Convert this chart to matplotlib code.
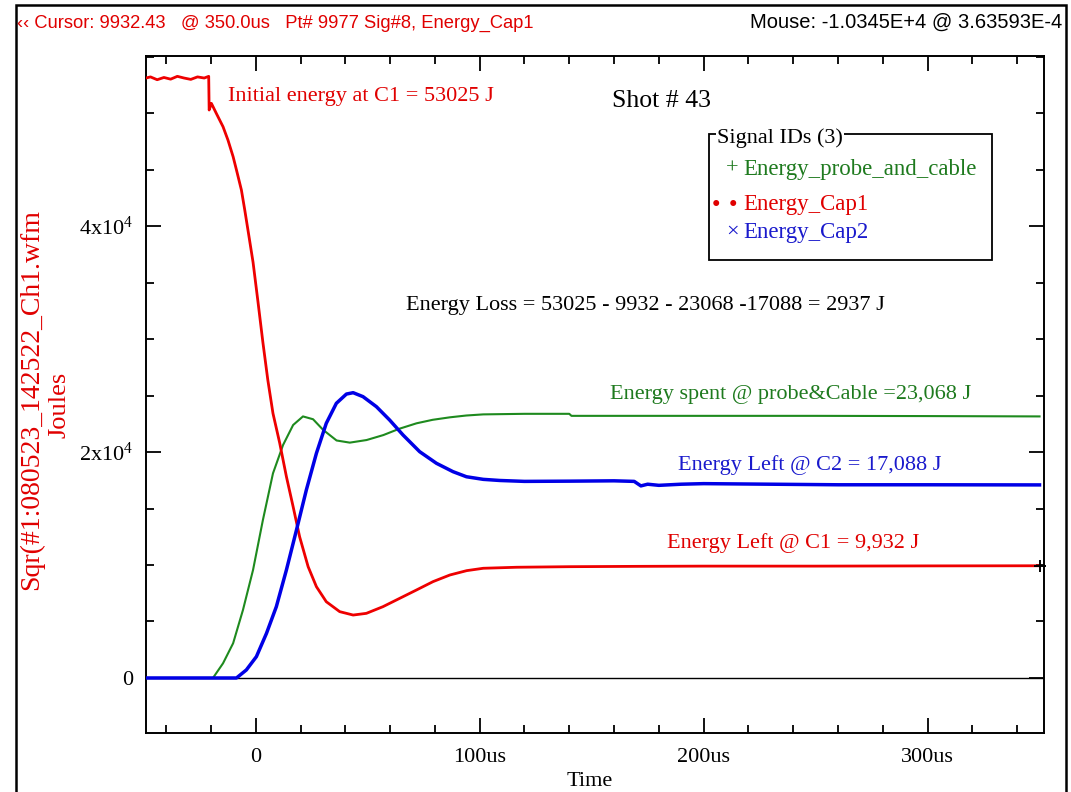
import matplotlib
matplotlib.use("Agg")
import matplotlib.pyplot as plt
from matplotlib.patches import Rectangle
from matplotlib.ticker import MultipleLocator, FixedLocator, FixedFormatter

plt.rcParams['font.family'] = 'Liberation Serif'
plt.rcParams['mathtext.fontset'] = 'custom'
plt.rcParams['mathtext.rm'] = 'Liberation Serif'
plt.rcParams['mathtext.it'] = 'Liberation Serif:italic'

# values (time in us, energy in J)
green_t = [-50, -19.1, -14.6, -10.1, -5.7, -1.2, 3.2, 7.7, 12.2, 16.7, 21.1, 25.6, 30.1,
           36.1, 42, 49.5, 57, 64, 71.8, 79, 86.7, 94, 101.6, 120, 140, 141, 200, 250,
           300, 350]
green_E = [0, 0, 1300, 3070, 6020, 9560, 13980, 18110, 20620, 22390, 23150, 22900, 21960,
           21020, 20830, 21060, 21500, 22050, 22540, 22850, 23070, 23230, 23330, 23380,
           23380, 23200, 23200, 23200, 23180, 23150]

red_t = [-50, -47, -44, -41, -38, -35, -32, -29, -26, -23, -21, -20.8, -19.8, -17.6, -14.6,
         -12.4, -10.1, -8.6, -6.4, -4.9, -3.0, -1.2, 1.0, 3.2, 5.4, 7.7, 10.7, 13.7, 16.7,
         19.6, 23.4, 27.1, 31.5, 37.5, 43.5, 49.4, 56.8, 64.3, 71.8, 79.2, 86.7, 94.2,
         101.6, 116.5, 140, 170, 200, 250, 300, 350]
red_E = [53050, 53200, 52950, 53150, 53000, 53250, 53100, 52980, 53200, 53100, 53250, 50270,
         50860, 49970, 48790, 47610, 46140, 44960, 43190, 41420, 39060, 36800, 33300, 29700,
         26370, 23420, 20800, 17820, 15160, 12500, 9850, 8080, 6750, 5870, 5570, 5720,
         6310, 7050, 7790, 8530, 9115, 9500, 9710, 9800, 9850, 9880, 9900, 9900, 9920, 9932]

blue_t = [-50, -8.6, -4.2, 0.3, 4.8, 9.2, 13.7, 18.2, 22.6, 27.1, 31.5, 36, 40.5, 43.5, 47.9,
          53.9, 59.8, 65.8, 73.2, 80.7, 88.1, 94.1, 101.6, 109, 120, 140, 160, 169, 172,
          175, 180, 190, 200, 230, 260, 300, 350]
blue_E = [0, 0, 710, 1890, 3950, 6310, 9560, 13100, 16640, 19890, 22540, 24310, 25130, 25250,
          24900, 24010, 22830, 21500, 20030, 19000, 18260, 17810, 17580, 17480, 17400,
          17420, 17450, 17400, 17000, 17150, 17050, 17150, 17200, 17150, 17100, 17100, 17088]

cursor_t = 350
cursor_E = 9932

x_ticks = [0, 100, 200, 300]
x_labels = ['0', '100us', '200us', '300us']
y_ticks = [0, 20000, 40000]
y_labels = ['0', r'2x10$^{4}$', r'4x10$^{4}$']

W, H = 1071, 792


def fx(p):
    return p / W


def fy(p):
    return 1 - p / H


fig = plt.figure(figsize=(W / 100, H / 100), dpi=100)
ax = fig.add_axes([fx(146), fy(733), fx(1044) - fx(146), fy(56) - fy(733)])

ax.axhline(0, color='black', lw=1.0, zorder=1)
ax.plot(green_t, green_E, color='#1e8a1e', lw=1.5, zorder=2)
ax.plot(red_t, red_E, color='#ee0000', lw=2.0, zorder=3)
ax.plot(blue_t, blue_E, color='#0000e6', lw=2.5, zorder=4)
ax.plot([cursor_t], [cursor_E], marker='+', color='black', ms=9, mew=1.4, zorder=5, clip_on=False)

ax.set_xlim(-49, 352)
ax.set_ylim(-4870, 55050)

ax.xaxis.set_major_locator(FixedLocator(x_ticks))
ax.xaxis.set_major_formatter(FixedFormatter(x_labels))
ax.xaxis.set_minor_locator(MultipleLocator(20))
ax.yaxis.set_major_locator(FixedLocator(y_ticks))
ax.yaxis.set_major_formatter(FixedFormatter(y_labels))
ax.yaxis.set_minor_locator(MultipleLocator(5000))
ax.tick_params(which='both', direction='in', top=True, right=True, width=1.3, labelsize=16)
ax.tick_params(which='major', length=11)
ax.tick_params(which='minor', length=6)
ax.tick_params(axis='x', pad=11)
ax.tick_params(axis='y', pad=9)
for s in ax.spines.values():
    s.set_linewidth(1.4)

# header line
fig.text(fx(17), fy(28), '\u2039\u2039 Cursor: 9932.43   @ 350.0us   Pt# 9977 Sig#8, Energy_Cap1',
         family='Liberation Sans', fontsize=13.2, color='#e00000', va='baseline')
fig.text(fx(1062), fy(28), 'Mouse: -1.0345E+4 @ 3.63593E-4',
         family='Liberation Sans', fontsize=14.5, color='black', ha='right', va='baseline')
fig.add_artist(Rectangle((fx(15.5), -0.01), fx(1065.5) - fx(15.5), fy(5.5) + 0.01,
                         transform=fig.transFigure, fill=False, lw=1.8, ec='black'))

# axis titles
fig.text(fx(32), fy(399), 'Sqr(#1:080523_142522_Ch1.wfm', rotation=90, color='#e00000',
         fontsize=20, ha='center', va='center')
fig.text(fx(59), fy(405), 'Joules', rotation=90, color='#e00000', fontsize=19,
         ha='center', va='center')
fig.text(fx(590), fy(781), 'Time', fontsize=16, ha='center', va='center')

# annotations
fig.text(fx(228), fy(101), 'Initial energy at C1 = 53025 J', fontsize=16, color='#e00000')
fig.text(fx(612), fy(107), 'Shot # 43', fontsize=18.5, color='black')
fig.text(fx(406), fy(310), 'Energy Loss = 53025 - 9932 - 23068 -17088 = 2937 J',
         fontsize=16, color='black')
fig.text(fx(610), fy(399), 'Energy spent @ probe&Cable =23,068 J', fontsize=16, color='#1e7a1e')
fig.text(fx(678), fy(470), 'Energy Left @ C2 = 17,088 J', fontsize=16, color='#1a1acc')
fig.text(fx(667), fy(548), 'Energy Left @ C1 = 9,932 J', fontsize=16, color='#e00000')

# signal id box
fig.add_artist(Rectangle((fx(709), fy(260)), fx(992) - fx(709), fy(134) - fy(260),
                         transform=fig.transFigure, fill=False, lw=1.3, ec='black'))
fig.text(fx(717), fy(143), 'Signal IDs (3)', fontsize=16, color='black',
         bbox=dict(fc='white', ec='none', pad=0.5))
fig.text(fx(732), fy(169), '+', fontsize=16, color='#1e7a1e', ha='center', va='center')
fig.text(fx(743), fy(175), 'Energy_probe_and_cable', fontsize=16.5, color='#1e7a1e')
fig.text(fx(716), fy(203), '\u25cf', fontsize=10, color='#e00000', ha='center', va='center')
fig.text(fx(733), fy(203), '\u25cf', fontsize=10, color='#e00000', ha='center', va='center')
fig.text(fx(743), fy(210), 'Energy_Cap1', fontsize=16.5, color='#e00000')
fig.text(fx(732), fy(232), '\u00d7', fontsize=16, color='#1a1acc', ha='center', va='center')
fig.text(fx(743), fy(238), 'Energy_Cap2', fontsize=16.5, color='#1a1acc')

fig.savefig('out.png', dpi=100)
